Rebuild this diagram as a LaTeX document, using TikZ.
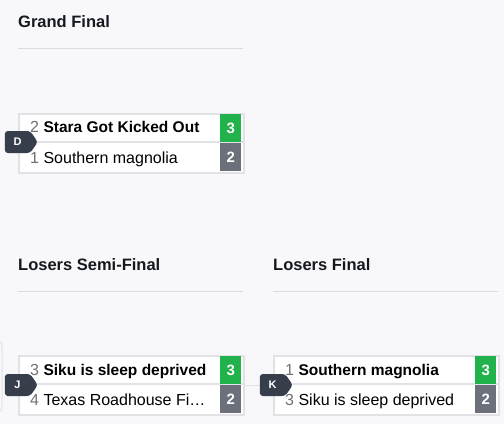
\documentclass[tikz,border=0pt]{standalone}
\usepackage{fontspec}
\setmainfont{Liberation Sans}
\usetikzlibrary{shapes.symbols}

\definecolor{pagebg}{RGB}{248,248,250}
\definecolor{titleink}{RGB}{22,24,32}
\definecolor{rulegray}{RGB}{218,218,224}
\definecolor{boxgray}{RGB}{226,226,230}
\definecolor{seedgray}{RGB}{112,112,118}
\definecolor{wingreen}{RGB}{33,178,76}
\definecolor{losegray}{RGB}{107,112,122}
\definecolor{badgeink}{RGB}{55,62,75}

\tikzset{
  roundtitle/.style={anchor=base west,inner sep=0pt,text=titleink,
    font=\bfseries\fontsize{16.5}{19}\selectfont},
  roundrule/.style={draw=rulegray,line width=1pt},
  matchbox/.style={draw=boxgray,line width=2pt,fill=white,anchor=north west,
    minimum width=225pt,minimum height=59pt,inner sep=0pt},
  teamrow/.style={anchor=base west,inner sep=0pt,text=black,
    font=\fontsize{16}{18}\selectfont},
  scorebox/.style={anchor=north west,inner sep=0pt,text=white,
    minimum width=21pt,minimum height=27.5pt,font=\bfseries\fontsize{15}{18}\selectfont},
  win/.style={scorebox,fill=wingreen},
  loss/.style={scorebox,fill=losegray},
  badge/.style={signal,signal to=east,signal pointer angle=110,fill=badgeink,
    text=white,minimum width=33pt,minimum height=22pt,inner sep=0pt,
    rounded corners=3pt,font=\bfseries\fontsize{11}{13}\selectfont},
  link/.style={draw=boxgray,line width=1pt}
}
\newcommand{\seed}[1]{\textcolor{seedgray}{#1}}
\newcommand{\winner}[1]{{\bfseries\fontsize{15.5}{18}\selectfont #1}}

\begin{document}
\begin{tikzpicture}[x=1pt,y=-1pt]
  \fill[pagebg] (0,0) rectangle (504,424);
  \useasboundingbox (0,0) rectangle (504,424);

  % grand final
  \node[roundtitle] (gftitle) at (18,27) {Grand Final};
  \coordinate (gfa) at (18,48);
  \coordinate (gfb) at (243,48);
  \draw[roundrule] (gfa) -- (gfb);

  \node[matchbox] (d) at (18,113) {};
  \coordinate (dl) at (18,142);
  \coordinate (dr) at (243,142);
  \draw[draw=boxgray,line width=1.5pt] (dl) -- (dr);
  \node[teamrow] (d1) at (30,132) {\seed{2} \winner{Stara Got Kicked Out}};
  \node[teamrow] (d2) at (30,163) {\seed{1} Southern magnolia};
  \node[win] (d1s) at (220,114) {3};
  \node[loss] (d2s) at (220,143) {2};
  \node[badge] (dbadge) at (17.5,142) {D};

  % losers semi-final
  \node[roundtitle] (lsftitle) at (18,270) {Losers Semi-Final};
  \coordinate (lsfa) at (18,291.5);
  \coordinate (lsfb) at (243,291.5);
  \draw[roundrule] (lsfa) -- (lsfb);

  % losers final
  \node[roundtitle] (lftitle) at (273,270) {Losers Final};
  \coordinate (lfa) at (273,291.5);
  \coordinate (lfb) at (498,291.5);
  \draw[roundrule] (lfa) -- (lfb);

  % left edge of the previous column
  \draw[link] (-4,341) .. controls (2,341) and (2,343) .. (2,350) -- (2,403)
    .. controls (2,410) and (2,412) .. (-4,412);

  \node[matchbox] (j) at (18,355) {};
  \node[matchbox] (k) at (273,355) {};
  \coordinate (jl) at (18,384);
  \coordinate (jr) at (243,384);
  \coordinate (kl) at (273,384);
  \coordinate (kr) at (498,384);
  \draw[draw=boxgray,line width=1.5pt] (jl) -- (jr);
  \draw[draw=boxgray,line width=1.5pt] (kl) -- (kr);
  \draw[link] (j.east) -- (k.west);

  \node[teamrow] (j1) at (30,375) {\seed{3} \winner{Siku is sleep deprived}};
  \node[teamrow] (j2) at (30,405) {\seed{4} Texas Roadhouse Fi…};
  \node[win] (j1s) at (220,356) {3};
  \node[loss] (j2s) at (220,385) {2};
  \node[badge] (jbadge) at (17.5,385) {J};

  \node[teamrow] (k1) at (285,375) {\seed{1} \winner{Southern magnolia}};
  \node[teamrow] (k2) at (285,405) {\seed{3} Siku is sleep deprived};
  \node[win] (k1s) at (475,356) {3};
  \node[loss] (k2s) at (475,385) {2};
  \node[badge] (kbadge) at (272.5,385) {K};
\end{tikzpicture}
\end{document}
